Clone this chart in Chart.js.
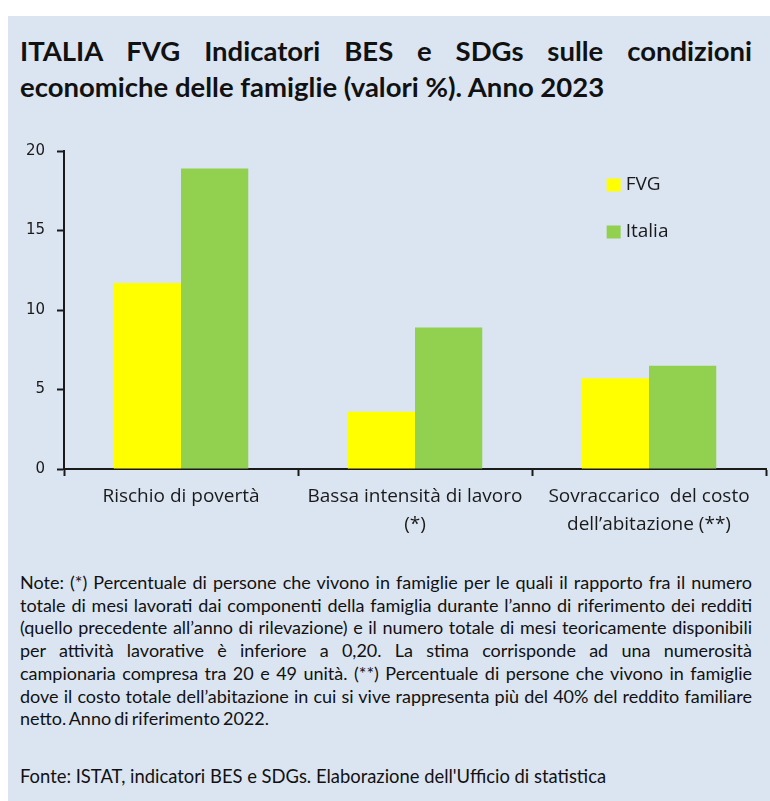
<!DOCTYPE html>
<html lang="it">
<head>
<meta charset="utf-8">
<script src="https://cdn.jsdelivr.net/npm/chart.js@4"></script>
<style>
  html, body { margin: 0; padding: 0; background: #fff; }
  body { width: 770px; height: 801px; position: relative; overflow: hidden; font-family: Lato, "Open Sans", sans-serif; color: #111; }
  .panel { position: absolute; left: 8px; top: 16px; width: 762px; height: 785px; background: #dbe5f1; }
  .title { position: absolute; left: 20px; top: 33px; width: 732px; font-weight: 700; font-size: 27.5px; line-height: 36px; color: #111; }
  .title div { white-space: nowrap; }
  .title .j { text-align: justify; text-align-last: justify; }
  .chart-wrap { position: absolute; left: 0; top: 130px; width: 770px; height: 420px; }
  .notes { position: absolute; left: 20px; top: 571px; width: 732px; font-size: 18px; line-height: 22.7px; color: #111; word-spacing: -1.5px; }
  .notes div { white-space: nowrap; text-align: justify; text-align-last: justify; }
  .notes div.last { text-align-last: left; }
  .fonte { position: absolute; left: 20px; top: 765px; font-size: 18.4px; line-height: 22.7px; color: #111; }
</style>
</head>
<body>
<div class="panel"></div>
<div class="title">
  <div class="j">ITALIA FVG Indicatori BES e SDGs sulle condizioni</div>
  <div>economiche delle famiglie (valori %). Anno 2023</div>
</div>
<div class="chart-wrap"><canvas id="chart"></canvas></div>
<div class="notes">
  <div>Note: (*) Percentuale di persone che vivono in famiglie per le quali il rapporto fra il numero</div>
  <div>totale di mesi lavorati dai componenti della famiglia durante l’anno di riferimento dei redditi</div>
  <div>(quello precedente all’anno di rilevazione) e il numero totale di mesi teoricamente disponibili</div>
  <div>per attività lavorative è inferiore a 0,20. La stima corrisponde ad una numerosità</div>
  <div>campionaria compresa tra 20 e 49 unità. (**) Percentuale di persone che vivono in famiglie</div>
  <div>dove il costo totale dell’abitazione in cui si vive rappresenta più del 40% del reddito familiare</div>
  <div class="last">netto. Anno di riferimento 2022.</div>
</div>
<div class="fonte">Fonte: ISTAT, indicatori BES e SDGs. Elaborazione dell'Ufficio di statistica</div>

<script>
// categorie e valori (%)
const categories = [
  ["Rischio di povertà"],
  ["Bassa intensità di lavoro", "(*)"],
  ["Sovraccarico  del costo", "dell’abitazione (**)"],
];
const fvgValues    = [11.7, 3.6, 5.7];
const italiaValues = [18.9, 8.9, 6.5];
const seriesNames  = ["FVG", "Italia"];
const yTicks       = [0, 5, 10, 15, 20];

const COL_FVG    = "#ffff00";
const COL_ITALIA = "#92d050";
const INK        = "#1a1a1a";
const LABEL_FONT = "'Open Sans', Lato, sans-serif";

// legenda disegnata dentro l'area del grafico, in alto a destra
const innerLegend = {
  id: "innerLegend",
  afterDraw(chart) {
    const { ctx, chartArea } = chart;
    const x0 = chartArea.left + (chartArea.right - chartArea.left) * 0.773;
    const rows = [chartArea.top + 34, chartArea.top + 81];
    ctx.save();
    ctx.font = "19px " + LABEL_FONT;
    ctx.textBaseline = "middle";
    chart.data.datasets.forEach((ds, i) => {
      const y = rows[i];
      ctx.fillStyle = ds.backgroundColor;
      ctx.fillRect(x0, y - 6.5, 14, 13);
      ctx.fillStyle = INK;
      ctx.fillText(ds.label, x0 + 19, y);
    });
    ctx.restore();
  },
};

new Chart(document.getElementById("chart"), {
  type: "bar",
  data: {
    labels: categories,
    datasets: [
      { label: seriesNames[0], data: fvgValues,    backgroundColor: COL_FVG,    borderWidth: 0 },
      { label: seriesNames[1], data: italiaValues, backgroundColor: COL_ITALIA, borderWidth: 0 },
    ],
  },
  options: {
    responsive: true,
    maintainAspectRatio: false,
    animation: false,
    layout: { padding: { top: 18, right: 4, left: 0, bottom: 0 } },
    plugins: { legend: { display: false }, tooltip: { enabled: false } },
    datasets: { bar: { categoryPercentage: 0.575, barPercentage: 1 } },
    scales: {
      x: {
        grid: { display: true, drawOnChartArea: false, offset: true, tickLength: 7, tickColor: INK, tickWidth: 2 },
        border: { color: INK, width: 2 },
        ticks: { color: INK, font: { size: 19, family: LABEL_FONT, lineHeight: 1.47 }, padding: 7, maxRotation: 0, autoSkip: false },
        afterFit: s => { s.height = 81; },
      },
      y: {
        min: 0,
        max: 20,
        afterBuildTicks: s => { s.ticks = yTicks.map(v => ({ value: v })); },
        grid: { display: true, drawOnChartArea: false, tickLength: 7, tickColor: INK, tickWidth: 2 },
        border: { color: INK, width: 2 },
        ticks: { color: INK, font: { size: 15, family: "'DejaVu Sans', sans-serif" }, padding: 12 },
        afterFit: s => { s.width = 64; },
      },
    },
  },
  plugins: [innerLegend],
});
</script>
</body>
</html>
